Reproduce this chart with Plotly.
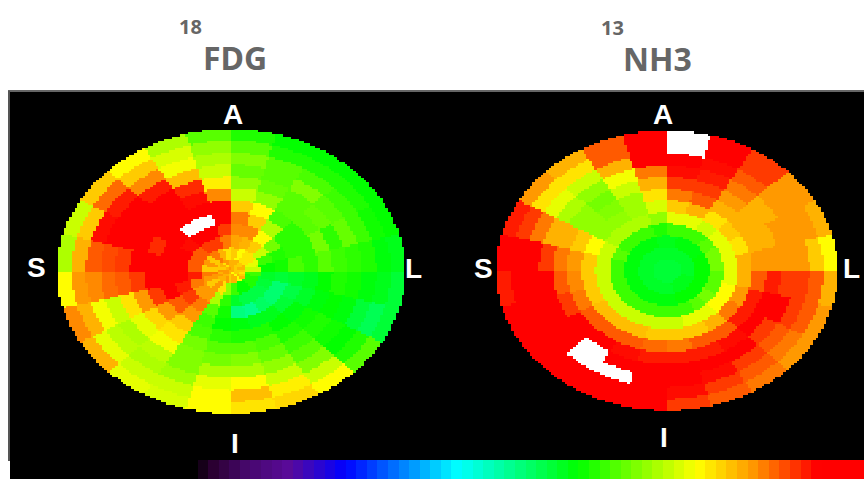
import numpy as np
import plotly.graph_objects as go

# Polar map values: one list per sector (clockwise from Anterior, 15 deg each),
# each listing the rings from outermost to innermost. 105 = over-range (white).
fdg_sectors = [
    [60,64,67,65,68,72,80,86,85,83,80,82],
    [58,60,64,64,65,68,76,80,85,82,76,82],
    [58,60,63,67,64,64,63,70,76,80,78,80],
    [58,60,62,64,65,64,61,61,66,72,78,80],
    [58,59,62,65,61,66,61,61,60,62,74,82],
    [56,57,60,61,62,64,61,63,59,58,72,80],
    [54,56,57,59,60,58,56,55,54,55,62,78],
    [54,52,54,57,58,57,55,53,50,54,60,80],
    [64,60,58,59,60,59,57,54,50,53,60,82],
    [76,72,67,64,62,60,58,56,51,53,58,76],
    [79,77,72,68,65,63,60,56,48,53,58,82],
    [78,81,76,70,67,64,60,57,49,55,62,82],
    [76,76,74,70,66,64,61,58,59,61,68,80],
    [73,72,69,67,67,66,63,62,64,70,78,84],
    [74,72,70,71,75,78,80,84,86,84,84,82],
    [82,74,71,70,74,79,84,88,90,84,80,82],
    [85,82,75,72,78,84,90,95,92,86,84,84],
    [76,84,85,87,88,90,95,95,95,92,86,82],
    [70,82,88,89,90,95,95,95,95,88,80,84],
    [72,80,93,95,95,95,91,95,95,88,84,80],
    [80,87,92,95,95,95,95,95,93,88,80,82],
    [76,80,85,92,95,95,95,105,95,90,86,78],
    [70,73,75,81,91,93,95,105,95,90,82,84],
    [64,68,70,72,77,85,95,95,90,86,78,82],
]
nh3_sectors = [
    [105,105,95,93,90,86,80,74,62,56,55,54],
    [95,95,93,92,90,88,82,74,62,57,55,54],
    [90,90,88,86,84,82,78,72,62,57,55,54],
    [84,84,84,82,82,82,80,74,64,57,55,54],
    [82,84,84,84,82,82,78,74,66,58,55,54],
    [76,80,84,84,84,84,82,74,66,58,55,54],
    [82,88,90,90,92,88,82,74,64,58,55,54],
    [84,88,90,95,95,92,84,76,64,58,56,54],
    [84,86,88,90,95,92,86,76,66,58,56,54],
    [86,88,90,95,93,88,82,74,64,58,56,54],
    [88,90,93,95,92,88,80,74,62,58,56,54],
    [90,93,95,95,92,86,80,72,62,57,55,54],
    [95,95,95,95,92,87,80,72,62,57,55,54],
    [95,95,105,95,93,88,81,72,62,57,55,54],
    [95,95,105,105,94,88,81,72,62,57,55,54],
    [95,95,95,95,94,88,81,72,62,57,55,54],
    [95,95,95,95,90,86,80,72,62,57,55,54],
    [92,95,95,95,88,85,80,72,62,57,55,54],
    [95,95,95,90,86,84,80,72,62,57,55,54],
    [92,90,86,82,82,80,76,72,64,57,55,54],
    [84,78,74,70,68,68,68,70,62,57,55,54],
    [82,78,72,68,66,67,68,70,62,57,55,54],
    [88,88,82,75,72,69,69,70,62,57,55,54],
    [95,95,95,86,82,78,73,68,60,56,55,54],
]
color_levels = list(np.linspace(0, 100, 64))
wall_labels = ["A", "S", "L", "I"]


def polar_image(sectors, cx, cy, rx, ry, step=2.7):
    table = np.array(sectors, dtype=float)
    nsec, nring = table.shape
    xs = np.arange(cx - rx - step, cx + rx + step, step)
    ys = np.arange(cy - ry - step, cy + ry + step, step * 0.85)
    X, Y = np.meshgrid(xs, ys)
    u, v = (X - cx) / rx, (Y - cy) / ry
    r = np.hypot(u, v)
    ang = np.degrees(np.arctan2(u, -v)) % 360
    sec = np.minimum((ang / (360 / nsec)).astype(int), nsec - 1)
    ring = np.clip(nring - 1 - (r * nring).astype(int), 0, nring - 1)
    z = table[sec, ring]
    z[r > 1] = np.nan
    return xs, ys, z


stops = [(0, "#000000"), (3, "#2a0030"), (8, "#45086a"), (14.6, "#5a0a9a"), (22.9, "#0000ff"),
         (39.9, "#00ffff"), (57.8, "#00ff00"), (75.8, "#ffff00"), (84, "#ff9900"),
         (93.7, "#ff0000"), (100, "#ff0000"), (101, "#ffffff"), (106, "#ffffff")]
colorscale = [[v / 106, c] for v, c in stops]

fig = go.Figure()
for sectors, geom in ((fdg_sectors, (231, 271.5, 174, 142.5)), (nh3_sectors, (667, 270.5, 171, 140))):
    xs, ys, z = polar_image(sectors, *geom)
    fig.add_trace(go.Heatmap(x=xs, y=ys, z=z, coloraxis="coloraxis", hoverongaps=False))

bar_dx = (864 - 187) / len(color_levels)
fig.add_trace(go.Heatmap(z=[color_levels], x0=187 + bar_dx / 2, dx=bar_dx, y0=470, dy=20,
                         coloraxis="coloraxis"))

label_pos = [(233, 114), (36, 267), (413, 268), (235, 443), (663, 114), (483, 268), (851, 268), (664, 437)]
annotations = []
for (x, y), t in zip(label_pos, wall_labels * 2):
    annotations.append(dict(x=x, y=y, text=f"<b>{t}</b>", showarrow=False,
                            font=dict(family="Liberation Sans", size=28, color="white")))
for x, y, t, s in [(190, 26, "18", 20), (235, 57, "FDG", 32), (612, 27, "13", 20), (657, 58, "NH3", 32)]:
    annotations.append(dict(x=x, y=y, text=f"<b>{t}</b>", showarrow=False,
                            font=dict(family="Noto Sans", size=s, color="#666666")))

fig.update_layout(
    width=864, height=479, margin=dict(l=0, r=0, t=0, b=0), paper_bgcolor="white",
    plot_bgcolor="white", showlegend=False, annotations=annotations,
    xaxis=dict(range=[0, 864], visible=False, fixedrange=True),
    yaxis=dict(range=[479, 0], visible=False, fixedrange=True),
    coloraxis=dict(colorscale=colorscale, cmin=0, cmax=106, showscale=False),
    shapes=[
        dict(type="rect", layer="below", x0=10, x1=864, y0=91, y1=479, fillcolor="black", line_width=0),
        dict(type="line", layer="below", x0=8, x1=864, y0=91, y1=91, line=dict(color="#666666", width=2)),
        dict(type="line", layer="below", x0=9, x1=9, y0=91, y1=461, line=dict(color="#555555", width=2)),
    ],
)
fig.write_html("out.html", config=dict(displayModeBar=False),
               post_script="document.body.style.margin='0';document.body.style.overflow='hidden';")
